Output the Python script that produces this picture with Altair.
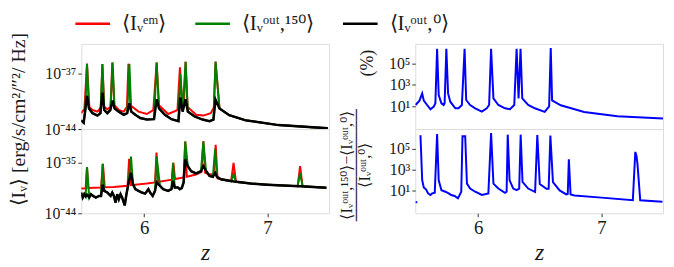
import altair as alt
import pandas as pd

# ---------------- data (z, log10 value) ----------------
# top-left panel
lt_red_z = [5.488, 5.515, 5.536, 5.555, 5.581, 5.621, 5.648, 5.661, 5.676, 5.701, 5.728, 5.741,
            5.757, 5.794, 5.834, 5.860, 5.872, 5.888, 5.954, 6.021, 6.074, 6.101, 6.120, 6.194,
            6.270, 6.290, 6.310, 6.322, 6.336, 6.352, 6.421, 6.480, 6.540, 6.565, 6.579, 6.611,
            6.690, 6.824, 7.090, 7.490]
lt_red_v = [-42.0, -41.5, -35.75, -41.2, -41.6, -41.8, -41.3, -35.8, -41.2, -41.5, -41.2, -35.6,
            -41.0, -41.6, -41.8, -41.2, -35.75, -41.0, -41.8, -42.1, -41.6, -35.6, -41.0, -42.1,
            -41.6, -36.2, -41.0, -41.0, -35.5, -41.2, -42.2, -42.3, -42.0, -41.3, -35.5, -41.4,
            -42.25, -42.9, -43.5, -43.9]

lt_black_z = [5.488, 5.509, 5.522, 5.536, 5.552, 5.581, 5.621, 5.645, 5.661, 5.676, 5.701, 5.725,
              5.744, 5.760, 5.794, 5.834, 5.862, 5.880, 5.895, 5.928, 5.968, 6.021, 6.080, 6.101,
              6.120, 6.168, 6.221, 6.278, 6.293, 6.312, 6.336, 6.354, 6.408, 6.474, 6.530, 6.562,
              6.579, 6.611, 6.690, 6.824, 7.090, 7.490]
lt_black_v = [-42.9, -43.2, -41.6, -39.8, -41.4, -42.0, -42.3, -42.0, -39.4, -41.6, -42.0, -41.6,
              -40.4, -41.4, -41.8, -42.2, -42.0, -40.75, -41.8, -42.2, -42.6, -42.8, -42.75, -40.25,
              -41.4, -42.2, -42.75, -43.0, -40.0, -41.8, -40.25, -41.8, -42.4, -42.8, -43.0, -42.8,
              -40.3, -41.4, -42.25, -42.9, -43.5, -43.9]

lt_green_z = lt_black_z
lt_green_v = [-42.9, -43.2, -41.6, -35.8, -41.4, -42.0, -42.3, -42.0, -35.8, -41.6, -42.0, -41.6,
              -35.6, -41.4, -41.8, -42.2, -42.0, -35.8, -41.8, -42.2, -42.6, -42.8, -42.75, -35.6,
              -41.4, -42.2, -42.75, -43.0, -37.0, -41.8, -35.5, -41.8, -42.4, -42.8, -43.0, -42.8,
              -35.5, -41.4, -42.25, -42.9, -43.5, -43.9]

# bottom-left panel
lb_red_z = [5.488, 5.525, 5.536, 5.547, 5.650, 5.665, 5.680, 5.754, 5.865, 5.878, 5.892, 6.021,
            6.088, 6.100, 6.112, 6.224, 6.237, 6.250, 6.320, 6.333, 6.346, 6.420, 6.465, 6.480,
            6.495, 6.530, 6.565, 6.580, 6.595, 6.624, 6.705, 6.725, 6.745, 6.864, 6.998, 7.245,
            7.265, 7.285, 7.478]
lb_red_v = [-39.6, -39.55, -35.75, -39.5, -39.4, -35.2, -39.35, -39.3, -39.1, -34.3, -39.0, -38.7,
            -38.5, -33.2, -38.4, -38.0, -35.0, -37.9, -37.6, -31.2, -37.5, -37.1, -36.6, -31.2,
            -36.8, -37.1, -37.0, -31.8, -37.8, -37.95, -38.3, -35.0, -38.4, -38.7, -38.9, -39.18,
            -35.6, -39.2, -39.45]

lb_black_z = [5.488, 5.501, 5.514, 5.525, 5.536, 5.554, 5.568, 5.585, 5.608, 5.634, 5.650, 5.663,
              5.676, 5.701, 5.728, 5.741, 5.754, 5.768, 5.781, 5.794, 5.808, 5.821, 5.842, 5.856,
              5.874, 5.893, 5.909, 5.928, 5.954, 5.981, 6.008, 6.034, 6.048, 6.069, 6.088, 6.101,
              6.128, 6.154, 6.194, 6.221, 6.234, 6.248, 6.274, 6.288, 6.305, 6.320, 6.333, 6.354,
              6.381, 6.421, 6.461, 6.480, 6.501, 6.530, 6.557, 6.576, 6.590, 6.624, 6.730, 6.864,
              6.998, 7.264, 7.478]
lb_black_v = [-40.3, -41.2, -40.6, -41.0, -40.7, -41.2, -40.6, -40.9, -41.2, -40.9, -40.9, -38.9,
              -40.0, -40.3, -40.9, -40.3, -40.9, -42.1, -40.6, -41.5, -40.6, -41.2, -42.6, -40.6,
              -38.5, -36.8, -38.8, -39.7, -40.0, -40.3, -40.5, -39.7, -40.3, -40.9, -40.0, -38.5,
              -39.1, -39.7, -40.0, -39.7, -38.2, -39.4, -39.4, -39.7, -39.5, -38.5, -34.4, -35.6,
              -36.5, -36.9, -36.5, -35.6, -36.4, -37.35, -37.5, -36.8, -37.5, -37.95, -38.35, -38.7,
              -38.9, -39.2, -39.45]

lb_green_z = [5.488, 5.501, 5.514, 5.525, 5.536, 5.554, 5.568, 5.585, 5.608, 5.634, 5.650, 5.663,
              5.676, 5.701, 5.728, 5.741, 5.754, 5.768, 5.781, 5.794, 5.808, 5.821, 5.842, 5.856,
              5.874, 5.893, 5.909, 5.928, 5.954, 5.981, 6.008, 6.034, 6.048, 6.069, 6.088, 6.101,
              6.128, 6.154, 6.194, 6.221, 6.234, 6.248, 6.274, 6.288, 6.305, 6.320, 6.333, 6.354,
              6.381, 6.421, 6.461, 6.480, 6.501, 6.530, 6.557, 6.576, 6.590, 6.624, 6.705, 6.725,
              6.745, 6.864, 6.998, 7.245, 7.265, 7.285, 7.478]
lb_green_v = [-40.3, -41.2, -40.6, -41.0, -35.75, -41.2, -40.6, -40.9, -41.2, -40.9, -40.9, -35.2,
              -40.0, -40.3, -40.9, -40.3, -40.9, -42.1, -40.6, -41.5, -40.6, -41.2, -42.6, -40.6,
              -38.5, -33.9, -38.8, -39.7, -40.0, -40.3, -40.5, -39.7, -40.3, -40.9, -40.0, -33.9,
              -39.1, -39.7, -40.0, -39.7, -35.0, -39.4, -39.4, -39.7, -39.5, -38.5, -31.2, -35.6,
              -36.5, -36.9, -36.5, -31.2, -36.4, -37.35, -37.5, -32.5, -37.5, -37.95, -38.3, -37.1,
              -38.4, -38.7, -38.9, -39.18, -36.8, -39.2, -39.45]

# top-right panel (percent difference, log10)
rt_z = [5.492, 5.524, 5.546, 5.559, 5.586, 5.613, 5.640, 5.653, 5.667, 5.680, 5.702, 5.720,
        5.728, 5.742, 5.756, 5.774, 5.815, 5.841, 5.868, 5.890, 5.903, 5.935, 5.976, 6.030,
        6.070, 6.089, 6.105, 6.124, 6.164, 6.218, 6.258, 6.293, 6.312, 6.328, 6.344, 6.358,
        6.406, 6.460, 6.540, 6.576, 6.589, 6.600, 6.670, 6.860, 7.130, 7.500]
rt_v = [1.12, 1.53, 2.21, 1.53, 1.12, 0.72, 0.97, 1.28, 6.40, 2.05, 1.28, 1.12,
        1.28, 6.40, 2.21, 1.43, 0.81, 0.81, 1.12, 6.40, 1.59, 1.12, 0.81, 0.50,
        0.81, 1.12, 6.40, 1.74, 1.12, 0.81, 0.72, 1.12, 6.40, 1.74, 6.40, 1.74,
        1.12, 0.81, 0.47, 1.00, 6.46, 1.56, 1.09, 0.47, 0.07, -0.15]

# bottom-right panel (two separate pieces)
rb0_z = [5.492, 5.506]
rb0_v = [-0.12, -0.06]
rb1_z = [5.532, 5.546, 5.559, 5.578, 5.594, 5.613, 5.627, 5.648, 5.667, 5.680, 5.702, 5.734,
         5.761, 5.782, 5.809, 5.836, 5.863, 5.873, 5.895, 5.909, 5.935, 5.976, 6.030, 6.083,
         6.105, 6.124, 6.164, 6.218, 6.231, 6.240, 6.255, 6.285, 6.312, 6.333, 6.345, 6.360,
         6.406, 6.462, 6.480, 6.500, 6.554, 6.572, 6.586, 6.607, 6.661, 6.715, 6.727, 6.736,
         6.750, 6.782, 7.000, 7.255, 7.275, 7.285, 7.293, 7.315, 7.495]
rb1_v = [6.27, 2.0, 1.31, 1.12, 0.75, 0.60, 0.75, 0.81, 6.40, 2.0, 1.06, 0.91,
         0.75, 0.60, 0.51, 0.28, 0.91, 6.18, 6.18, 1.68, 1.21, 0.91, 0.60, 0.75,
         6.49, 1.68, 1.21, 0.81, 0.91, 6.33, 2.0, 1.21, 1.06, 1.21, 6.33, 1.84,
         1.21, 0.88, 6.30, 1.65, 1.19, 1.19, 6.24, 1.81, 1.03, 0.65, 0.70, 3.98,
         0.65, 0.56, 0.35, 0.10, 4.69, 4.30, 3.51, 0.10, -0.05]

series_names = ["em", "out150", "out0"]
series_colors = ["#ff0000", "#008000", "#000000"]

# ---------------- helpers ----------------
SERIF = "'Liberation Serif', 'Times New Roman', serif"
TXT = "#1a1a1a"


def frame(z, v, series, seg=0):
    return pd.DataFrame({"z": z, "val": [10.0 ** e for e in v], "series": series, "seg": seg})


x_scale = alt.Scale(domain=[5.49, 7.50], nice=False, zero=False)


def x_axis(bottom):
    if bottom:
        return alt.Axis(values=[6, 7], format="d", title="z", titleFont=SERIF,
                        titleFontStyle="italic", titleFontWeight="normal", titleFontSize=24,
                        titleColor=TXT, titlePadding=3, labelFont=SERIF, labelFontSize=19,
                        labelColor=TXT, labelPadding=2, tickSize=3.5, tickColor="#333",
                        domain=False, grid=False)
    return alt.Axis(labels=False, ticks=False, title=None, domain=False, grid=False)


def y_axis(values, expr, **kw):
    args = dict(values=values, labelExpr=expr, grid=False, domain=False, tickSize=3.5,
                tickColor="#333", labelFont=SERIF, labelFontSize=16, labelColor=TXT,
                labelPadding=2, title=None)
    args.update(kw)
    return alt.Axis(**args)


# legend line drawn as a custom path twice as long as its layout box
legend = alt.Legend(
    orient="none", legendX=1, legendY=-31, direction="horizontal", title=None, padding=0,
    symbolType="M-2,0H2", symbolSize=306, symbolStrokeWidth=2.5, labelFont=SERIF,
    labelFontSize=21, labelColor=TXT, labelOffset=19, columnPadding=24,
    labelExpr="datum.value == 'em' ? '⟨Iᵥᵉᵐ⟩' : datum.value == 'out150' ? '⟨Iᵥᵒᵘᵗ,¹⁵⁰⟩' : '⟨Iᵥᵒᵘᵗ,⁰⟩'",
)
color_enc = alt.Color("series:N", scale=alt.Scale(domain=series_names, range=series_colors),
                      legend=legend)

W, H1, H2 = 250, 86, 85

# ---------------- top-left ----------------
lt_y = alt.Scale(type="log", domain=[1e-44, 10 ** -33.25], nice=False)
lt_yaxis = y_axis([1e-44, 1e-37], "datum.value < 1e-40 ? '10⁻⁴⁴' : '10⁻³⁷'")


def lt_layer(df, sw):
    return alt.Chart(df).mark_line(strokeWidth=sw, clip=True).encode(
        x=alt.X("z:Q", scale=x_scale, axis=x_axis(False)),
        y=alt.Y("val:Q", scale=lt_y, axis=lt_yaxis),
        color=color_enc,
    )


LT = alt.layer(
    lt_layer(frame(lt_red_z, lt_red_v, "em"), 2),
    lt_layer(frame(lt_green_z, lt_green_v, "out150"), 2),
    lt_layer(frame(lt_black_z, lt_black_v, "out0"), 2.5),
).properties(width=W, height=H1)

# ---------------- bottom-left ----------------
lb_y = alt.Scale(type="log", domain=[1e-44, 1e-29], nice=False)
lb_yaxis = y_axis([1e-44, 1e-35], "datum.value < 1e-40 ? '10⁻⁴⁴' : '10⁻³⁵'",
                  title="⟨Iᵥ⟩ [erg/s/cm²/″²/ Hz]", titleFont=SERIF, titleFontSize=20,
                  titleFontWeight="normal", titleColor=TXT, titleX=-53, titleY=-10)


def lb_layer(df, col, sw):
    return alt.Chart(df).mark_line(strokeWidth=sw, clip=True, color=col).encode(
        x=alt.X("z:Q", scale=x_scale, axis=x_axis(True)),
        y=alt.Y("val:Q", scale=lb_y, axis=lb_yaxis),
    )


LB = alt.layer(
    lb_layer(frame(lb_red_z, lb_red_v, "em"), "#ff0000", 2),
    lb_layer(frame(lb_green_z, lb_green_v, "out150"), "#008000", 2),
    lb_layer(frame(lb_black_z, lb_black_v, "out0"), "#000000", 2.5),
).properties(width=W, height=H2)

# ---------------- right panels ----------------
r_y = alt.Scale(type="log", domain=[10 ** -1.14, 10 ** 6.86], nice=False)
r_expr = "datum.value < 100 ? '10¹' : datum.value < 1e4 ? '10³' : '10⁵'"

RT = alt.Chart(frame(rt_z, rt_v, "diff")).mark_line(strokeWidth=2, clip=True, color="#0000ff").encode(
    x=alt.X("z:Q", scale=x_scale, axis=x_axis(False)),
    y=alt.Y("val:Q", scale=r_y,
            axis=y_axis([10, 1e3, 1e5], r_expr, title="(%)", titleFont=SERIF,
                        titleFontSize=18, titleFontWeight="normal", titleColor=TXT,
                        titleX=-39, titleY=19)),
).properties(width=W, height=H1)

rb_df = pd.concat([frame(rb0_z, rb0_v, "diff", 0), frame(rb1_z, rb1_v, "diff", 1)])
RB = alt.Chart(rb_df).mark_line(strokeWidth=2, clip=True, color="#0000ff").encode(
    x=alt.X("z:Q", scale=x_scale, axis=x_axis(True)),
    y=alt.Y("val:Q", scale=r_y,
            axis=y_axis([10, 1e3, 1e5], r_expr,
                        title=["⟨Iᵥᵒᵘᵗ,¹⁵⁰⟩−⟨Iᵥᵒᵘᵗ,⁰⟩", "──────────", "⟨Iᵥᵒᵘᵗ,⁰⟩"],
                        titleFont=SERIF, titleFontSize=16, titleLineHeight=9,
                        titleFontWeight="normal", titleColor=TXT, titleX=-61, titleY=36)),
    detail="seg:N",
).properties(width=W, height=H2)

chart = alt.concat(
    LT, RT, LB, RB, columns=2, spacing={"row": 0, "column": 87}, bounds="flush"
).properties(
    padding={"left": 0, "top": 4, "right": 2, "bottom": 0}
).configure_view(
    stroke="#444", strokeWidth=1
).configure(background="white")

chart.save("out.html", embed_options={"renderer": "svg", "actions": False})
